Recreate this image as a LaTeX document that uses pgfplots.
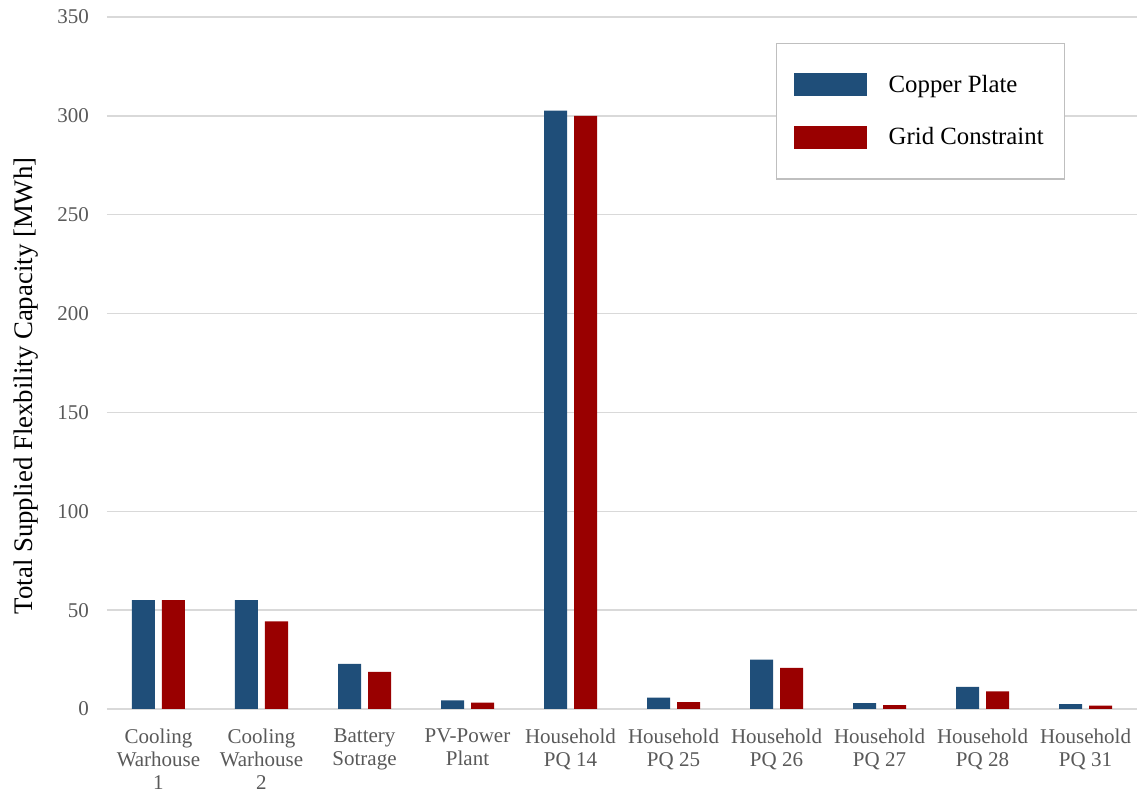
\documentclass[border=0pt]{standalone}
\usepackage{pgfplots}
\pgfplotsset{compat=1.18}
\usepackage{fontspec}
\setmainfont{Liberation Serif}

\definecolor{cpblue}{HTML}{1F4E79}
\definecolor{gcred}{HTML}{990000}
\definecolor{gridgray}{HTML}{D9D9D9}
\definecolor{ticktext}{HTML}{595959}
\definecolor{legframe}{HTML}{BFBFBF}

% Total supplied flexibility capacity per unit [MWh]
\pgfplotstableread{
idx copper grid
0   55.0   55.0
1   55.0   44.3
2   22.8   18.8
3    4.4    3.2
4  302.6  300.0
5    5.8    3.5
6   25.0   20.8
7    3.0    2.0
8   11.2    8.9
9    2.5    1.7
}\flexdata

\begin{document}
\begin{tikzpicture}
\begin{axis}[
  name=ax,
  scale only axis,
  width=515pt, height=346pt,
  xmin=-0.5, xmax=9.5,
  ymin=0, ymax=350,
  ytick={0,50,...,350},
  xtick={0,...,9},
  xticklabels={{Cooling\\Warhouse\\1},{Cooling\\Warhouse\\2},{Battery\\Sotrage},{PV-Power\\Plant},{Household\\PQ 14},{Household\\PQ 25},{Household\\PQ 26},{Household\\PQ 27},{Household\\PQ 28},{Household\\PQ 31}},
  axis x line*=bottom,
  axis y line*=left,
  y axis line style={draw=none},
  x axis line style={draw=gridgray, line width=0.9pt},
  ymajorgrids,
  grid style={draw=gridgray, line width=0.7pt},
  major tick length=0pt,
  tick style={draw=none},
  /pgf/number format/assume math mode=true,
  tick label style={text=ticktext},
  yticklabel style={font=\fontsize{10.5}{12}\selectfont, xshift=-5.5pt},
  xticklabel style={font=\fontsize{10.5}{11.5}\selectfont, align=center, yshift=-6.5pt},
  ylabel={Total Supplied Flexbility Capacity [MWh]},
  ylabel style={font=\fontsize{13.4}{15}\selectfont, at={(axis description cs:-0.0786,0.467)}, anchor=center, rotate=0},
  ybar,
  bar width=11.5pt,
  legend style={
    at={(axis description cs:0.6495,0.963)}, anchor=north west,
    draw=legframe, line width=0.7pt,
    inner xsep=8.5pt, inner ysep=13.8pt,
    font=\fontsize{12.4}{14}\selectfont,
    row sep=12pt,
    /tikz/every odd column/.append style={column sep=9pt},
    legend cell align=left,
  },
]
\addplot[fill=cpblue, draw=none, bar shift=-7.5pt,
  legend image code/.code={\fill[cpblue] (0pt,-5.75pt) rectangle (36.5pt,5.75pt);}]
  table[x=idx, y=copper] {\flexdata};
\addlegendentry{Copper Plate}
\addplot[fill=gcred, draw=none, bar shift=7.5pt,
  legend image code/.code={\fill[gcred] (0pt,-5.75pt) rectangle (36.5pt,5.75pt);}]
  table[x=idx, y=grid] {\flexdata};
\addlegendentry{Grid Constraint\hspace{3pt}}
\end{axis}
\path (ax.south west) ++(-53.5pt,-42.3pt) rectangle ([xshift=1.5pt,yshift=8.5pt]ax.north east);
\end{tikzpicture}
\end{document}
